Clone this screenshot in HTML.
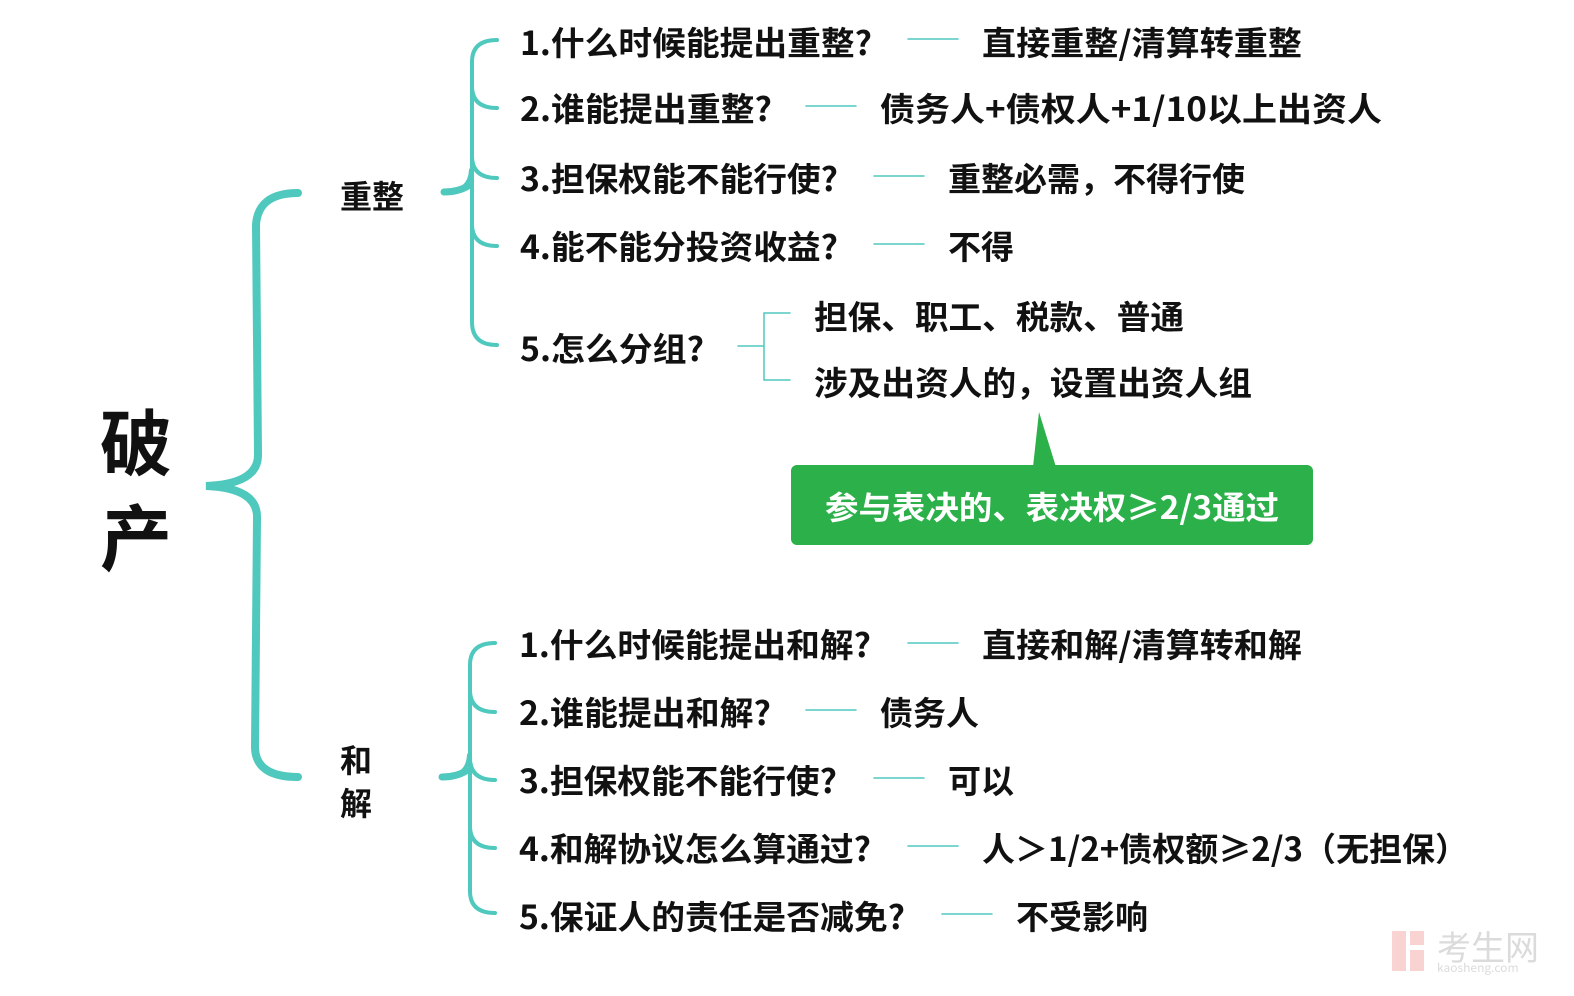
<!DOCTYPE html>
<html><head><meta charset="utf-8"><style>
html,body{margin:0;padding:0;background:#fff}
svg{display:block}
text{font-family:"Noto Sans CJK SC","Liberation Sans",sans-serif;font-weight:bold;fill:#111}
</style></head><body>
<svg width="1574" height="996" viewBox="0 0 1574 996" xmlns="http://www.w3.org/2000/svg">
<g fill="none" stroke="#4fc8bd" stroke-linecap="round">
<path d="M298 193 Q258 193 256 225 L258 455 Q258 484 206 486 Q258 488 257 518 L255 748 Q256 777 298 777" stroke-width="8"/>
<path d="M446 192 Q470 192 471 170 M497 40 Q472 40 472 62 L472 322 Q472 345 497 345 M472 86 Q472 108 497 108 M472 156 Q472 178 497 178 M472 224 Q472 246 497 246" stroke-width="4"/>
<path d="M444 192 Q458 192 468 186" stroke-width="7"/>
<path d="M444 777 Q468 777 469 755 M495 643 Q470 643 470 665 L470 891 Q470 913 495 913 M470 690 Q470 712 495 712 M470 758 Q470 780 495 780 M470 826 Q470 848 495 848" stroke-width="4"/>
<path d="M442 777 Q456 777 466 771" stroke-width="7"/>
<path d="M738 346 H764 M790 313 H764 V380 H790" stroke-width="1.5"/>
<path d="M908 39 H958 M806 106 H856 M874 176 H924 M874 244 H924 M908 643 H958 M806 710 H856 M874 778 H924 M908 846 H958 M942 914 H992" stroke-width="1.5"/>
</g>
<text x="100" y="470" font-size="72">破</text>
<text x="100" y="565" font-size="72">产</text>
<text x="340" y="208" font-size="32">重整</text>
<text x="340" y="772" font-size="32">和</text>
<text x="340" y="815" font-size="32">解</text>
<g font-size="33">
<text x="520" y="55" textLength="352" lengthAdjust="spacingAndGlyphs">1.什么时候能提出重整?</text>
<text x="982" y="55" textLength="320" lengthAdjust="spacingAndGlyphs">直接重整/清算转重整</text>
<text x="520" y="121" textLength="252" lengthAdjust="spacingAndGlyphs">2.谁能提出重整?</text>
<text x="880" y="121" textLength="502" lengthAdjust="spacingAndGlyphs">债务人+债权人+1/10以上出资人</text>
<text x="520" y="191" textLength="318" lengthAdjust="spacingAndGlyphs">3.担保权能不能行使?</text>
<text x="948" y="191">重整必需，不得行使</text>
<text x="520" y="259" textLength="318" lengthAdjust="spacingAndGlyphs">4.能不能分投资收益?</text>
<text x="948" y="259">不得</text>
<text x="520" y="361" textLength="184" lengthAdjust="spacingAndGlyphs">5.怎么分组?</text>
<text x="814" y="329" textLength="370" lengthAdjust="spacingAndGlyphs">担保、职工、税款、普通</text>
<text x="814" y="395" textLength="438" lengthAdjust="spacingAndGlyphs">涉及出资人的，设置出资人组</text>
<text x="519" y="657" textLength="352" lengthAdjust="spacingAndGlyphs">1.什么时候能提出和解?</text>
<text x="982" y="657" textLength="320" lengthAdjust="spacingAndGlyphs">直接和解/清算转和解</text>
<text x="519" y="725" textLength="252" lengthAdjust="spacingAndGlyphs">2.谁能提出和解?</text>
<text x="880" y="725">债务人</text>
<text x="519" y="793" textLength="318" lengthAdjust="spacingAndGlyphs">3.担保权能不能行使?</text>
<text x="948" y="793">可以</text>
<text x="519" y="861" textLength="352" lengthAdjust="spacingAndGlyphs">4.和解协议怎么算通过?</text>
<text x="982" y="861" textLength="486" lengthAdjust="spacingAndGlyphs">人＞1/2+债权额≥2/3（无担保）</text>
<text x="519" y="929" textLength="386" lengthAdjust="spacingAndGlyphs">5.保证人的责任是否减免?</text>
<text x="1016" y="929">不受影响</text>
</g>
<rect x="791" y="465" width="522" height="80" rx="6" fill="#2bb04a"/>
<path d="M1033 467 L1039 412 L1056 467 Z" fill="#2bb04a"/>
<text x="1052" y="519" font-size="32" text-anchor="middle" textLength="454" lengthAdjust="spacingAndGlyphs" style="fill:#fff">参与表决的、表决权≥2/3通过</text>
<g opacity="0.35">
<rect x="1392" y="931" width="14" height="40" fill="#f08080"/>
<rect x="1410" y="931" width="14" height="14" fill="#f08080"/>
<rect x="1410" y="950" width="14" height="21" fill="#f08080"/>
<text x="1437" y="960" font-size="34" style="fill:#999;font-weight:normal">考生网</text>
<text x="1437" y="972" font-size="12" style="fill:#999;font-weight:normal">kaosheng.com</text>
</g>
</svg>
</body></html>
